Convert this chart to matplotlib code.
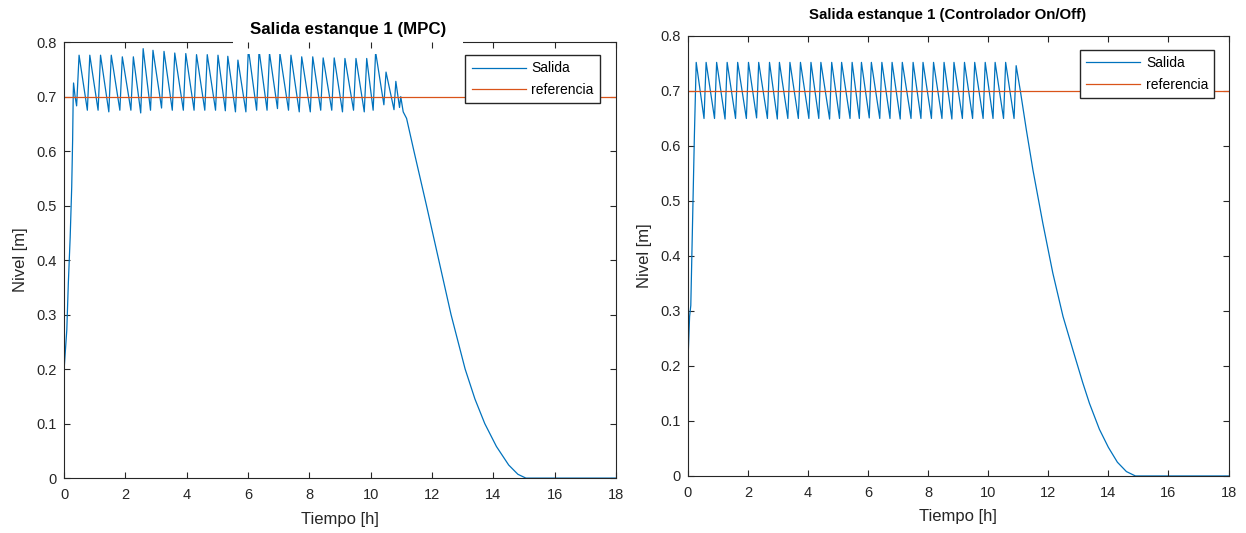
"""
Salida estanque 1: MPC vs controlador On/Off (estilo MATLAB)
"""

import matplotlib.pyplot as plt

plt.rcParams['font.family'] = ['Liberation Sans', 'DejaVu Sans']

BLUE = '#0072BD'
ORANGE = '#D95319'
AX_COL = '#262626'

REF = 0.7
X_TICKS = [0, 2, 4, 6, 8, 10, 12, 14, 16, 18]
Y_TICKS = [0, 0.1, 0.2, 0.3, 0.4, 0.5, 0.6, 0.7, 0.8]
Y_LABELS = ['0', '0.1', '0.2', '0.3', '0.4', '0.5', '0.6', '0.7', '0.8']

# ---- MPC (left) ----
mpc_start_t = [0.0, 0.09, 0.14, 0.20, 0.25, 0.28, 0.30, 0.31, 0.36]
mpc_start_y = [0.198, 0.272, 0.358, 0.442, 0.534, 0.62, 0.706, 0.725, 0.70]
mpc_trough_t = [0.41, 0.76, 1.11, 1.46, 1.82, 2.18, 2.50, 2.82, 3.18, 3.53,
                3.89, 4.24, 4.59, 4.94, 5.26, 5.59, 5.93, 6.28, 6.62, 6.96,
                7.32, 7.67, 8.03, 8.37, 8.73, 9.08, 9.44, 9.79, 10.08]
mpc_trough_y = [0.683, 0.675, 0.675, 0.672, 0.675, 0.675, 0.670, 0.675, 0.679, 0.675,
                0.675, 0.675, 0.675, 0.675, 0.674, 0.672, 0.672, 0.675, 0.675, 0.678,
                0.675, 0.672, 0.672, 0.675, 0.675, 0.672, 0.675, 0.672, 0.675]
mpc_peak_t = [0.49, 0.84, 1.19, 1.54, 1.90, 2.26, 2.58, 2.90, 3.26, 3.61,
              3.97, 4.32, 4.67, 5.02, 5.34, 5.67, 6.01, 6.36, 6.70, 7.04,
              7.40, 7.75, 8.11, 8.45, 8.81, 9.16, 9.52, 9.87, 10.16]
mpc_peak_y = [0.776, 0.776, 0.776, 0.776, 0.773, 0.773, 0.788, 0.785, 0.783, 0.780,
              0.779, 0.777, 0.777, 0.776, 0.774, 0.767, 0.788, 0.785, 0.780, 0.779,
              0.776, 0.773, 0.773, 0.771, 0.771, 0.770, 0.770, 0.770, 0.782]
mpc_tail_t = [10.43, 10.50, 10.76, 10.82, 10.94, 10.98, 11.06, 11.17, 11.41, 11.82,
              12.22, 12.62, 13.08, 13.40, 13.72, 14.10, 14.50, 14.80, 15.06, 18.0]
mpc_tail_y = [0.685, 0.745, 0.676, 0.728, 0.680, 0.700, 0.672, 0.660, 0.600, 0.500,
              0.400, 0.300, 0.200, 0.145, 0.100, 0.058, 0.024, 0.007, 0.0, 0.0]

# ---- On/Off (right) ----
onoff_start_t = [0.0, 0.06, 0.10, 0.22, 0.28]
onoff_start_y = [0.20, 0.29, 0.31, 0.62, 0.752]
onoff_trough_t = [0.54, 0.89, 1.24, 1.59, 1.95, 2.29, 2.65, 2.98, 3.33, 3.68,
                  4.03, 4.36, 4.72, 5.05, 5.40, 5.71, 6.04, 6.39, 6.73, 7.07,
                  7.43, 7.76, 8.11, 8.46, 8.79, 9.14, 9.48, 9.83, 10.16, 10.51, 10.86]
onoff_trough_y = [0.650, 0.650, 0.649, 0.650, 0.650, 0.651, 0.650, 0.649, 0.650, 0.650,
                  0.650, 0.650, 0.649, 0.650, 0.650, 0.650, 0.651, 0.650, 0.650, 0.649,
                  0.650, 0.650, 0.650, 0.650, 0.649, 0.650, 0.650, 0.650, 0.650, 0.650, 0.650]
onoff_peak_t = [0.61, 0.96, 1.31, 1.66, 2.02, 2.36, 2.72, 3.05, 3.40, 3.75,
                4.10, 4.43, 4.79, 5.12, 5.47, 5.78, 6.11, 6.46, 6.80, 7.14,
                7.50, 7.83, 8.18, 8.53, 8.86, 9.21, 9.55, 9.90, 10.23, 10.58, 10.93]
onoff_peak_y = [0.752, 0.752, 0.752, 0.752, 0.752, 0.752, 0.752, 0.752, 0.752, 0.752,
                0.752, 0.752, 0.752, 0.752, 0.752, 0.752, 0.752, 0.752, 0.752, 0.752,
                0.752, 0.752, 0.752, 0.752, 0.752, 0.752, 0.752, 0.752, 0.752, 0.752, 0.746]
onoff_tail_t = [11.07, 11.27, 11.49, 11.82, 12.15, 12.49, 12.82, 13.15, 13.37, 13.70,
                14.00, 14.30, 14.60, 14.90, 18.0]
onoff_tail_y = [0.700, 0.629, 0.556, 0.459, 0.369, 0.290, 0.229, 0.169, 0.132, 0.085,
                0.052, 0.025, 0.008, 0.0, 0.0]


def build_series(st, sy, tt, ty, pt, py, et, ey):
    # start, then trough/peak pairs, then the draining tail
    t, y = list(st), list(sy)
    for a, b, c, d in zip(tt, ty, pt, py):
        t += [a, c]
        y += [b, d]
    return t + list(et), y + list(ey)


def style_axes(ax, legend_anchor):
    ax.set_xlim(0, 18)
    ax.set_ylim(0, 0.8)
    ax.set_xticks(X_TICKS)
    ax.set_yticks(Y_TICKS)
    ax.set_yticklabels(Y_LABELS)
    ax.tick_params(direction='in', top=True, right=True, length=4, width=0.8,
                   colors=AX_COL, labelsize=10.5, labelcolor=AX_COL)
    ax.tick_params(axis='x', pad=7)
    ax.tick_params(axis='y', pad=5)
    for s in ax.spines.values():
        s.set_color(AX_COL)
        s.set_linewidth(0.8)
    ax.set_xlabel('Tiempo [h]', fontsize=12, color=AX_COL, labelpad=7)
    ax.set_ylabel('Nivel [m]', fontsize=12, color=AX_COL, labelpad=6)
    ax.xaxis.set_zorder(4)
    ax.legend(loc='upper right', bbox_to_anchor=legend_anchor, fontsize=10,
              handlelength=3.9, frameon=True, fancybox=False, edgecolor=AX_COL,
              framealpha=1, borderpad=0.45, labelspacing=0.55, handletextpad=0.4,
              borderaxespad=0)


fig = plt.figure(figsize=(12.46, 5.33), dpi=100)
ax1 = fig.add_axes([0.0514, 0.103, 0.443, 0.818])
ax2 = fig.add_axes([0.552, 0.107, 0.434, 0.8255])

t1, y1 = build_series(mpc_start_t, mpc_start_y, mpc_trough_t, mpc_trough_y,
                      mpc_peak_t, mpc_peak_y, mpc_tail_t, mpc_tail_y)
ax1.plot(t1, y1, color=BLUE, lw=0.9, label='Salida')
ax1.plot([0, 18], [REF, REF], color=ORANGE, lw=0.9, label='referencia')
style_axes(ax1, (0.971, 0.97))
# the MPC title sits on the top box line and hides it
ax1.text(0.515, 1.028, 'Salida estanque 1 (MPC)', transform=ax1.transAxes,
         ha='center', va='center', fontsize=12.2, fontweight='bold', color='black',
         zorder=3, bbox=dict(boxstyle='square,pad=1.0', facecolor='white', edgecolor='none'))

t2, y2 = build_series(onoff_start_t, onoff_start_y, onoff_trough_t, onoff_trough_y,
                      onoff_peak_t, onoff_peak_y, onoff_tail_t, onoff_tail_y)
ax2.plot(t2, y2, color=BLUE, lw=0.9, label='Salida')
ax2.plot([0, 18], [REF, REF], color=ORANGE, lw=0.9, label='referencia')
style_axes(ax2, (0.974, 0.968))
ax2.text(0.481, 1.048, 'Salida estanque 1 (Controlador On/Off)', transform=ax2.transAxes,
         ha='center', va='center', fontsize=10.8, fontweight='bold', color='black')

fig.savefig('out.png', dpi=100, facecolor='white')
